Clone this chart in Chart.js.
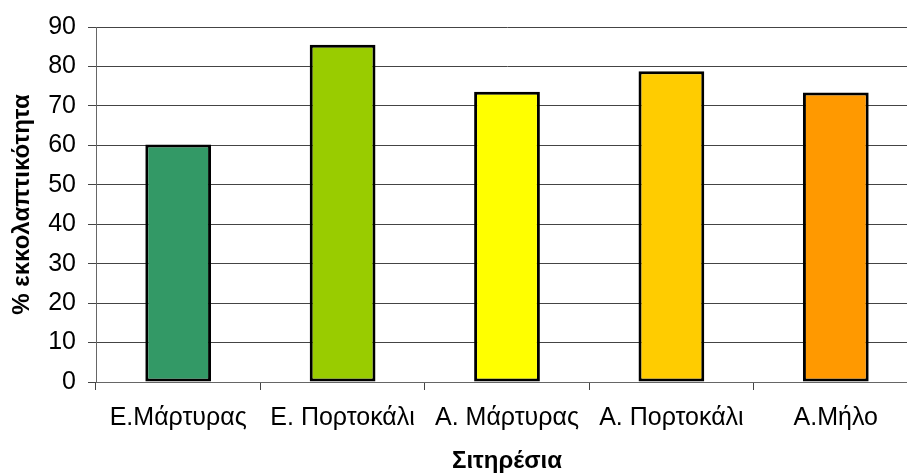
<!DOCTYPE html>
<html>
<head>
<meta charset="utf-8">
<script src="https://cdn.jsdelivr.net/npm/chart.js@4/dist/chart.umd.min.js"></script>
<style>
  html, body { margin: 0; padding: 0; background: #fff; overflow: hidden; }
  #wrap { position: relative; width: 918px; height: 473px; }
</style>
</head>
<body>
<div id="wrap"><canvas id="c" width="918" height="473"></canvas></div>
<script>
// Hatching rate per diet
const categories = ['Ε.Μάρτυρας', 'Ε. Πορτοκάλι', 'Α. Μάρτυρας', 'Α. Πορτοκάλι', 'Α.Μήλο'];
const hatchRate = [60.2, 85.5, 73.6, 78.8, 73.4];
const barColors = ['#339966', '#99CC00', '#FFFF00', '#FFCC00', '#FF9900'];
const yTicks = [0, 10, 20, 30, 40, 50, 60, 70, 80, 90];

const FONT = '"Liberation Sans", Arial, sans-serif';

new Chart(document.getElementById('c'), {
  type: 'bar',
  data: {
    labels: categories,
    datasets: [{
      data: hatchRate,
      backgroundColor: barColors,
      borderColor: '#000',
      borderWidth: 3,
      borderSkipped: false,
      categoryPercentage: 1,
      barPercentage: 0.4
    }]
  },
  options: {
    responsive: false,
    animation: false,
    layout: { padding: { top: 27, left: 0, right: 0, bottom: 0 } },
    plugins: { legend: { display: false }, tooltip: { enabled: false } },
    scales: {
      x: {
        offset: true,
        grid: {
          offset: true,
          drawOnChartArea: false,
          drawTicks: true,
          tickLength: 8,
          color: '#444',
          lineWidth: 1
        },
        border: { color: '#666', width: 1 },
        ticks: {
          color: '#000',
          padding: 13,
          maxRotation: 0,
          autoSkip: false,
          font: { family: FONT, size: 25 }
        },
        title: {
          display: true,
          text: 'Σιτηρέσια',
          color: '#000',
          padding: { top: 0, bottom: 0 },
          font: { family: FONT, size: 24, weight: 'bold', lineHeight: 1 }
        },
        afterFit: (s) => { s.height = 91; }
      },
      y: {
        min: 0,
        max: 90,
        afterBuildTicks: (s) => { s.ticks = yTicks.map(v => ({ value: v })); },
        grid: {
          color: '#444',
          lineWidth: 1,
          tickLength: 8
        },
        border: { color: '#666', width: 1 },
        ticks: {
          color: '#000',
          padding: 12,
          font: { family: FONT, size: 25 }
        },
        title: {
          display: true,
          text: '% εκκολαπτικότητα',
          color: '#000',
          padding: { top: 10, bottom: 0 },
          font: { family: FONT, size: 24, weight: 'bold', lineHeight: 1 }
        },
        afterFit: (s) => { s.width = 96; }
      }
    }
  }
});
</script>
</body>
</html>
